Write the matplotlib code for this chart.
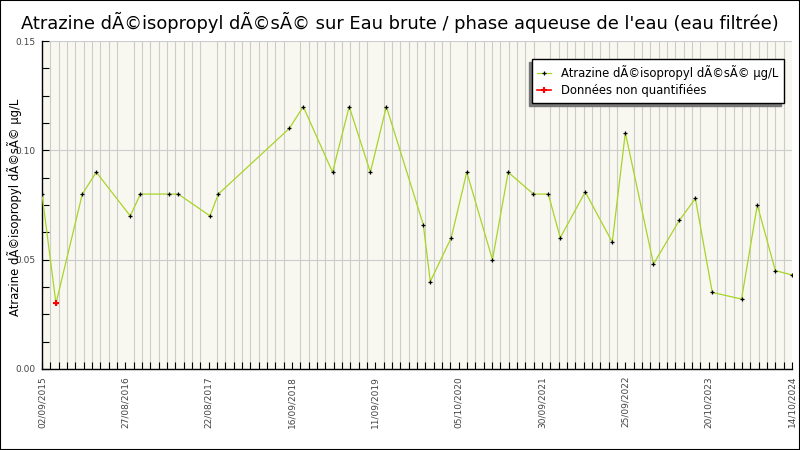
import numpy as np
import matplotlib
matplotlib.use("Agg")
import matplotlib.pyplot as plt
import matplotlib.dates as mdates
from matplotlib.patches import Rectangle

# Data
dates = ["2015-09-02", "2015-11-03", "2016-02-28", "2016-04-30", "2016-09-28",
         "2016-11-12", "2017-03-20", "2017-04-29", "2017-09-17", "2017-10-24",
         "2018-09-04", "2018-11-05", "2019-03-15", "2019-05-28", "2019-08-30",
         "2019-11-09", "2020-04-21", "2020-05-22", "2020-08-23", "2020-10-31",
         "2021-02-22", "2021-05-03", "2021-08-23", "2021-10-28", "2021-12-20",
         "2022-04-10", "2022-08-08", "2022-10-05", "2023-02-07", "2023-06-02",
         "2023-08-12", "2023-10-26", "2024-03-04", "2024-05-13", "2024-08-01",
         "2024-10-14"]
values = [0.08, 0.03, 0.08, 0.09, 0.07, 0.08, 0.08, 0.08, 0.07, 0.08,
          0.11, 0.12, 0.09, 0.12, 0.09, 0.12, 0.066, 0.04, 0.06, 0.09,
          0.05, 0.09, 0.08, 0.08, 0.06, 0.081, 0.058, 0.108, 0.048, 0.068,
          0.078, 0.035, 0.032, 0.075, 0.045, 0.043]
non_quant_idx = [1]

tick_labels = ["02/09/2015", "27/08/2016", "22/08/2017", "16/09/2018", "11/09/2019",
               "05/10/2020", "30/09/2021", "25/09/2022", "20/10/2023", "14/10/2024"]
y_ticks = [0.00, 0.05, 0.10, 0.15]

title = "Atrazine dÃ©isopropyl dÃ©sÃ© sur Eau brute / phase aqueuse de l'eau (eau filtrée)"
ylabel = "Atrazine dÃ©isopropyl dÃ©sÃ© µg/L"

x = mdates.date2num(np.array(dates, dtype="datetime64[D]"))
y = np.array(values)

fig = plt.figure(figsize=(8, 4.5), dpi=100)
fig.patch.set_facecolor("white")
fig.patches.append(Rectangle((0, 0), 1, 1, transform=fig.transFigure,
                             fill=False, edgecolor="black", linewidth=1.5))

ax = fig.add_axes([42 / 800, 81 / 450, 750 / 800, 328 / 450])
ax.set_facecolor("#F8F8F0")

# main series
ax.plot(x, y, color="#A8D428", linewidth=0.9, marker="+", markersize=3.5,
        markeredgecolor="black", markeredgewidth=0.9,
        label="Atrazine dÃ©isopropyl dÃ©sÃ© µg/L", zorder=3)
ax.plot(x[non_quant_idx], y[non_quant_idx], color="red", linewidth=1.2,
        marker="+", markersize=4.5, markeredgewidth=1.5,
        label="Données non quantifiées", zorder=4)

ax.set_xlim(x[0], x[-1])
ax.set_ylim(0, 0.15)

# evenly spaced date ticks, as on the original
major = np.linspace(x[0], x[-1], len(tick_labels))
minor = np.linspace(x[0], x[-1], 91)
ax.set_xticks(major)
ax.set_xticklabels(tick_labels, rotation=90, fontsize=6.5, color="#444444")
ax.set_xticks(minor, minor=True)
ax.set_yticks(y_ticks)
ax.set_yticklabels([f"{v:.2f}" for v in y_ticks], fontsize=6.5, color="#444444")
ax.set_yticks(np.arange(0, 0.1501, 0.0125), minor=True)

ax.tick_params(axis="both", which="both", direction="in", length=5, width=0.8,
               color="black")
ax.tick_params(axis="x", which="major", pad=5)
ax.tick_params(axis="y", which="major", pad=5)

ax.grid(True, axis="x", which="minor", color="#CCCCCC", linewidth=0.8)
ax.grid(True, axis="y", which="major", color="#CCCCCC", linewidth=0.8)
ax.set_axisbelow(True)

for side in ["top", "right"]:
    ax.spines[side].set_visible(False)
ax.spines["left"].set_linewidth(1)
ax.spines["bottom"].set_linewidth(1)

fig.text(15 / 800, 1 - 207 / 450, ylabel, rotation=90, ha="center", va="center",
         fontsize=8.4)
fig.text(0.5, 1 - 22 / 450, title, ha="center", va="center", fontsize=12.9)

leg = ax.legend(loc="upper right", bbox_to_anchor=(0.989, 0.945), fontsize=8.4,
                borderaxespad=0, frameon=True, fancybox=False, edgecolor="black",
                shadow={"ox": -2, "oy": -2, "color": "#777777", "alpha": 1},
                handlelength=1.2, borderpad=0.5, labelspacing=0.35)
leg.get_frame().set_linewidth(1)
leg.get_frame().set_facecolor("white")
leg.get_frame().set_alpha(1)

fig.savefig("out.png", dpi=100)
